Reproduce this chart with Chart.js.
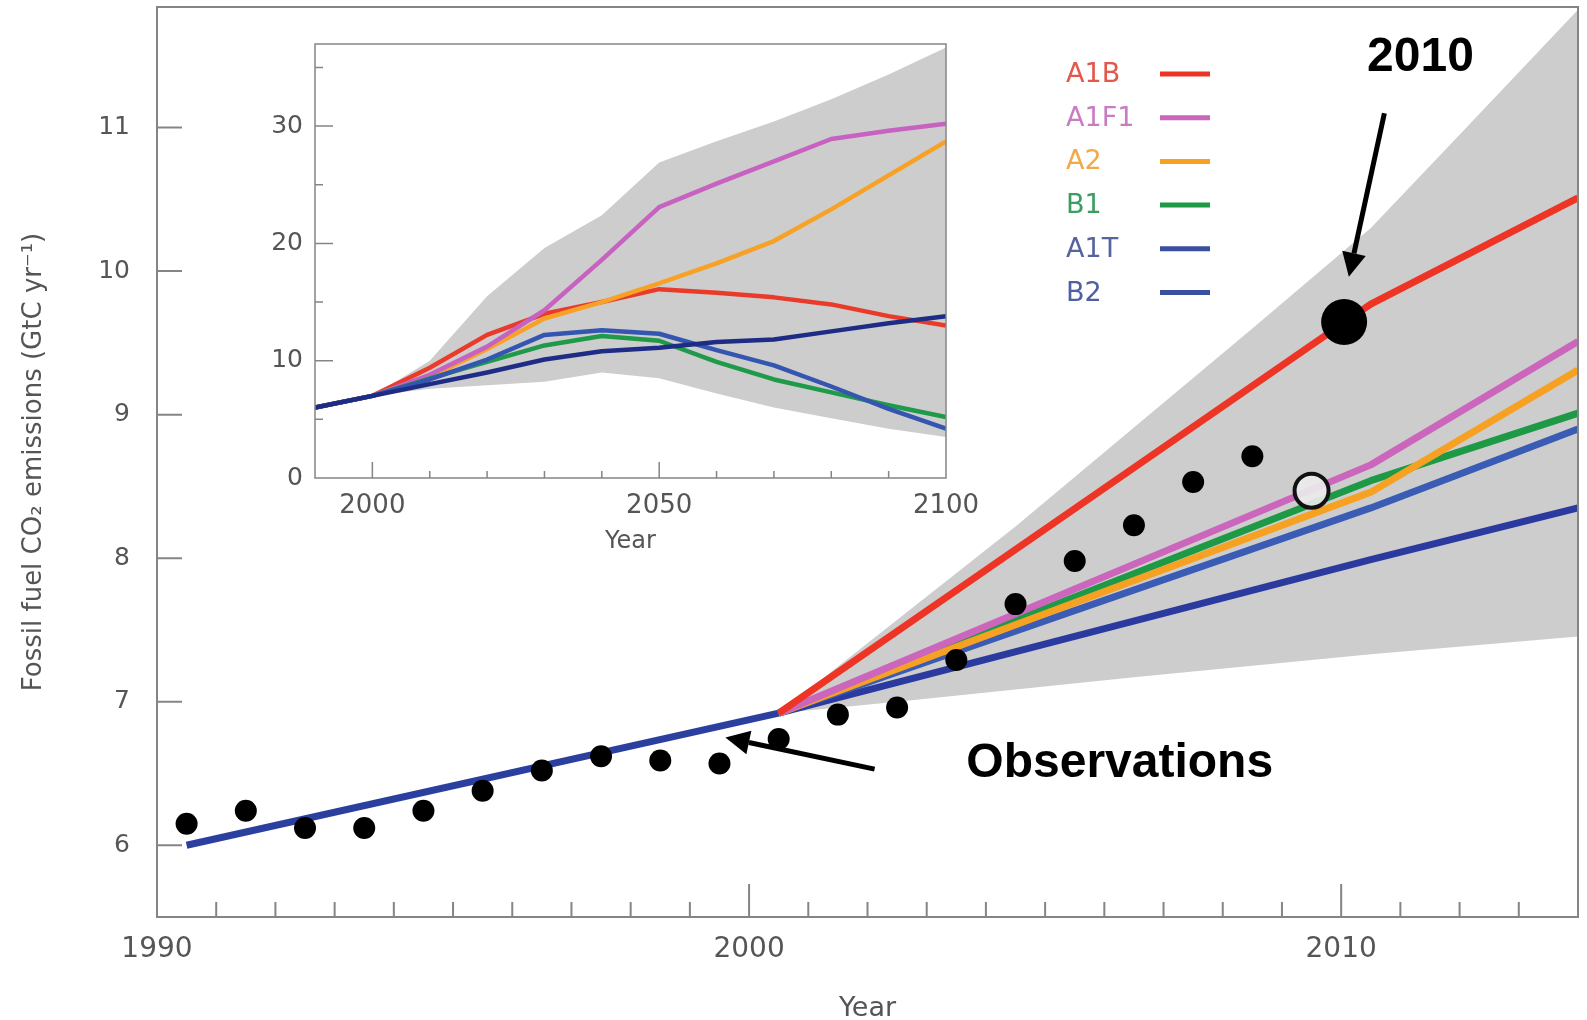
<!DOCTYPE html>
<html>
<head>
<meta charset="utf-8">
<title>Fossil fuel CO2 emissions and SRES scenarios</title>
<script src="https://cdn.jsdelivr.net/npm/chart.js@4.4.1/dist/chart.umd.min.js"></script>
<style>
	html, body { margin: 0; padding: 0; background: #fff; }
	#wrap { position: relative; width: 1587px; height: 1020px; overflow: hidden; }
	#main { position: absolute; left: 0; top: 0; }
	#inset { position: absolute; left: 240px; top: 30px; }
</style>
</head>
<body>
<div id="wrap">
	<canvas id="main" width="1587" height="1020"></canvas>
	<canvas id="inset" width="740" height="530"></canvas>
</div>
<script>
// ---- main panel: observations 1990-2008 and scenarios to 2014 ----
const obsYears = [1990.5, 1991.5, 1992.5, 1993.5, 1994.5, 1995.5, 1996.5, 1997.5, 1998.5, 1999.5,
	2000.5, 2001.5, 2002.5, 2003.5, 2004.5, 2005.5, 2006.5, 2007.5, 2008.5];
const obsValues = [6.15, 6.24, 6.12, 6.12, 6.24, 6.38, 6.52, 6.62, 6.59, 6.57,
	6.74, 6.91, 6.96, 7.29, 7.68, 7.98, 8.23, 8.53, 8.71];

const histYears = [1990.5, 2000.5];
const histValues = [6.0, 6.92];

const scenarioNames = ["A1B", "A1F1", "A2", "B1", "A1T", "B2"];
const projYears = [2000.5, 2010.5, 2014];
const projA1B = [6.92, 9.77, 10.51];
const projA1F1 = [6.92, 8.65, 9.51];
const projA2 = [6.92, 8.46, 9.31];
const projB1 = [6.92, 8.54, 9.01];
const projA1T = [6.92, 8.35, 8.9];
const projB2 = [6.92, 7.99, 8.35];

const rangeUpperYears = [2000.5, 2004.5, 2008.5, 2010.5, 2012, 2014];
const rangeUpperValues = [6.92, 8.22, 9.6, 10.3, 10.95, 11.82];
const rangeLowerYears = [2000.5, 2002.5, 2006.5, 2010.5, 2014];
const rangeLowerValues = [6.92, 7.0, 7.17, 7.33, 7.455];

const mark2010Years = [2010.05];
const mark2010Values = [9.645];
const openMarkYears = [2009.5];
const openMarkValues = [8.47];

const mainXTicks = [1990, 2000, 2010];
const mainYTicks = [6, 7, 8, 9, 10, 11];

// ---- inset: scenarios to 2100 ----
const insetYears = [1990, 2000, 2010, 2020, 2030, 2040, 2050, 2060, 2070, 2080, 2090, 2100];
const insetA1B = [6.0, 7.0, 9.4, 12.2, 14.0, 15.0, 16.1, 15.8, 15.4, 14.8, 13.8, 13.0];
const insetA1F1 = [6.0, 7.0, 8.8, 11.2, 14.3, 18.6, 23.1, 25.1, 27.0, 28.9, 29.6, 30.2];
const insetA2 = [6.0, 7.0, 8.6, 11.0, 13.6, 15.0, 16.6, 18.3, 20.2, 22.9, 25.8, 28.7];
const insetB1 = [6.0, 7.0, 8.5, 9.9, 11.3, 12.1, 11.7, 9.9, 8.4, 7.3, 6.2, 5.2];
const insetA1T = [6.0, 7.0, 8.4, 10.1, 12.2, 12.6, 12.3, 10.9, 9.6, 7.8, 5.9, 4.2];
const insetB2 = [6.0, 7.0, 8.0, 9.0, 10.1, 10.8, 11.1, 11.6, 11.8, 12.5, 13.2, 13.8];
const insetUpper = [6.0, 7.0, 10.0, 15.5, 19.6, 22.4, 26.9, 28.7, 30.4, 32.3, 34.4, 36.7];
const insetLower = [6.0, 7.0, 7.6, 7.9, 8.2, 9.0, 8.5, 7.2, 6.0, 5.1, 4.2, 3.5];

const insetXTicks = [2000, 2050, 2100];
const insetYTicks = [0, 10, 20, 30];

// ---- styles ----
const lineColors = {
	A1B: "#ee3424",
	A1F1: "#cb66bc",
	A2: "#f7a123",
	B1: "#1e9a46",
	A1T: "#3a5cb4",
	B2: "#2a3a9e",
};
const insetColors = {
	A1B: "#ea3a2a",
	A1F1: "#c862c0",
	A2: "#f7a226",
	B1: "#1f9a4a",
	A1T: "#3456b0",
	B2: "#1f2c85",
};
const legendTextColors = ["#e4574a", "#c77cc4", "#f0aa48", "#3c9c62", "#55639f", "#4f5f9f"];
const legendLineColors = ["#ee3424", "#cb66bc", "#f7a123", "#1e9a46", "#3a4fa0", "#3a4fa0"];
const rangeGrey = "#cdcdcd";
const axisGrey = "#858585";
const labelGrey = "#555555";

Chart.defaults.font.family = "'DejaVu Sans', sans-serif";
Chart.defaults.color = labelGrey;

const pts = (xs, ys) => xs.map((x, i) => ({ x, y: ys[i] }));

const tickValues = (min, max, step) => {
	const out = [];
	for (let v = Math.ceil(min / step - 1e-9) * step; v < max - 1e-9; v += step) {
		if (v > min + 1e-9) out.push(+v.toFixed(6));
	}
	return out;
};
const isMultiple = (v, step) => Math.abs(v / step - Math.round(v / step)) < 1e-6;

// box round the plot area, with tick marks pointing inwards
const makeFrame = cfg => ({
	id: "frame",
	afterDraw(chart) {
		const {
			ctx,
			chartArea: a,
			scales: { x, y },
		} = chart;
		ctx.save();
		ctx.strokeStyle = cfg.color;
		ctx.lineWidth = cfg.width;
		ctx.strokeRect(a.left, a.top, a.right - a.left, a.bottom - a.top);
		ctx.beginPath();
		tickValues(x.min, x.max, cfg.xMinor).forEach(v => {
			const len = isMultiple(v, cfg.xMajor) ? cfg.xMajorLen : cfg.xMinorLen;
			const px = x.getPixelForValue(v);
			ctx.moveTo(px, a.bottom);
			ctx.lineTo(px, a.bottom - len);
		});
		tickValues(y.min, y.max, cfg.yMinor).forEach(v => {
			const len = isMultiple(v, cfg.yMajor) ? cfg.yMajorLen : cfg.yMinorLen;
			const py = y.getPixelForValue(v);
			ctx.moveTo(a.left, py);
			ctx.lineTo(a.left + len, py);
		});
		ctx.stroke();
		ctx.restore();
	},
});

const drawArrow = (ctx, x1, y1, x2, y2) => {
	const ang = Math.atan2(y2 - y1, x2 - x1);
	const head = 24;
	const half = 12;
	const bx = x2 - head * Math.cos(ang);
	const by = y2 - head * Math.sin(ang);
	ctx.lineWidth = 5;
	ctx.beginPath();
	ctx.moveTo(x1, y1);
	ctx.lineTo(bx, by);
	ctx.stroke();
	ctx.beginPath();
	ctx.moveTo(x2, y2);
	ctx.lineTo(bx + half * Math.sin(ang), by - half * Math.cos(ang));
	ctx.lineTo(bx - half * Math.sin(ang), by + half * Math.cos(ang));
	ctx.closePath();
	ctx.fill();
};

// "2010" and "Observations" call-outs, placed in data units
const callouts = [
	{ text: "2010", at: [2011.34, 11.485], from: [2010.73, 11.1], to: [2010.13, 9.96] },
	{ text: "Observations", at: [2006.26, 6.57], from: [2002.12, 6.53], to: [1999.6, 6.75] },
];

const calloutPlugin = {
	id: "callouts",
	afterDatasetsDraw(chart) {
		const {
			ctx,
			scales: { x, y },
		} = chart;
		ctx.save();
		ctx.fillStyle = "#000";
		ctx.strokeStyle = "#000";
		ctx.font = "bold 48px 'Liberation Sans', Arial, sans-serif";
		ctx.textAlign = "center";
		ctx.textBaseline = "middle";
		callouts.forEach(c => {
			ctx.fillText(c.text, x.getPixelForValue(c.at[0]), y.getPixelForValue(c.at[1]));
			drawArrow(
				ctx,
				x.getPixelForValue(c.from[0]),
				y.getPixelForValue(c.from[1]),
				x.getPixelForValue(c.to[0]),
				y.getPixelForValue(c.to[1])
			);
		});
		ctx.restore();
	},
};

// legend: coloured name, then a short line
const legendPlugin = {
	id: "scenarioLegend",
	afterDatasetsDraw(chart) {
		const { ctx } = chart;
		ctx.save();
		ctx.font = "27px 'DejaVu Sans', sans-serif";
		ctx.textBaseline = "middle";
		ctx.textAlign = "left";
		ctx.lineWidth = 5;
		scenarioNames.forEach((name, i) => {
			const yy = 74 + i * 43.7;
			ctx.fillStyle = legendTextColors[i];
			ctx.fillText(name, 1066, yy + 1);
			ctx.strokeStyle = legendLineColors[i];
			ctx.beginPath();
			ctx.moveTo(1160, yy);
			ctx.lineTo(1210, yy);
			ctx.stroke();
		});
		ctx.restore();
	},
};

const lineSet = (label, data, color, width, order) => ({
	label,
	data,
	borderColor: color,
	borderWidth: width,
	pointRadius: 0,
	fill: false,
	tension: 0,
	borderJoinStyle: "round",
	clip: 0,
	order,
});

const dotSet = (label, data, radius, fillColor, border, order) => ({
	label,
	data,
	showLine: false,
	pointRadius: radius,
	pointBackgroundColor: fillColor,
	pointBorderColor: "#111",
	pointBorderWidth: border,
	order,
});

new Chart(document.getElementById("main"), {
	type: "line",
	data: {
		datasets: [
			{
				label: "range upper",
				data: pts(rangeUpperYears, rangeUpperValues),
				borderWidth: 0,
				pointRadius: 0,
				backgroundColor: rangeGrey,
				fill: "+1",
				order: 20,
			},
			{
				label: "range lower",
				data: pts(rangeLowerYears, rangeLowerValues),
				borderWidth: 0,
				pointRadius: 0,
				fill: false,
				order: 21,
			},
			lineSet("history", pts(histYears, histValues), "#2b3f9f", 7, 12),
			lineSet("B2", pts(projYears, projB2), lineColors.B2, 7, 11),
			lineSet("A1T", pts(projYears, projA1T), lineColors.A1T, 7, 10),
			lineSet("B1", pts(projYears, projB1), lineColors.B1, 7, 9),
			lineSet("A2", pts(projYears, projA2), lineColors.A2, 7, 8),
			lineSet("A1F1", pts(projYears, projA1F1), lineColors.A1F1, 7, 7),
			lineSet("A1B", pts(projYears, projA1B), lineColors.A1B, 7, 6),
			dotSet("Observations", pts(obsYears, obsValues), 11, "#000", 0, 3),
			dotSet("2009", pts(openMarkYears, openMarkValues), 17, "rgba(236,236,236,0.9)", 4, 2),
			dotSet("2010", pts(mark2010Years, mark2010Values), 23, "#000", 0, 1),
		],
	},
	options: {
		responsive: false,
		animation: false,
		events: [],
		layout: { autoPadding: false, padding: { top: 7, right: 9, left: 0, bottom: 0 } },
		plugins: {
			legend: { display: false },
			tooltip: { enabled: false },
		},
		scales: {
			x: {
				type: "linear",
				min: 1990,
				max: 2014,
				grid: { display: false, drawTicks: false },
				border: { display: false },
				afterBuildTicks: s => {
					s.ticks = mainXTicks.map(value => ({ value }));
				},
				ticks: {
					autoSkip: false,
					maxRotation: 0,
					padding: 16,
					color: labelGrey,
					font: { size: 28 },
					callback: v => String(v),
				},
				title: {
					display: true,
					text: "Year",
					color: labelGrey,
					font: { size: 27, lineHeight: 0.8 },
					padding: { top: 0, bottom: 0 },
				},
				afterFit: s => {
					s.height = 103;
					s.paddingLeft = 0;
					s.paddingRight = 0;
				},
			},
			y: {
				type: "linear",
				min: 5.5,
				max: 11.84,
				grid: { display: false, drawTicks: false },
				border: { display: false },
				afterBuildTicks: s => {
					s.ticks = mainYTicks.map(value => ({ value }));
				},
				ticks: {
					padding: 27,
					color: labelGrey,
					font: { size: 25 },
					callback: v => String(v),
				},
				title: {
					display: true,
					text: "Fossil fuel CO₂ emissions (GtC yr⁻¹)",
					color: labelGrey,
					font: { size: 26 },
					padding: { top: 19, bottom: 0 },
				},
				afterFit: s => {
					s.width = 157;
					s.paddingTop = 0;
					s.paddingBottom = 0;
				},
			},
		},
	},
	plugins: [
		makeFrame({
			color: axisGrey,
			width: 2,
			xMinor: 1,
			xMajor: 10,
			xMinorLen: 15,
			xMajorLen: 33,
			yMinor: 1,
			yMajor: 1,
			yMinorLen: 25,
			yMajorLen: 25,
		}),
		legendPlugin,
		calloutPlugin,
	],
});

new Chart(document.getElementById("inset"), {
	type: "line",
	data: {
		datasets: [
			{
				label: "range upper",
				data: pts(insetYears, insetUpper),
				borderWidth: 0,
				pointRadius: 0,
				backgroundColor: rangeGrey,
				fill: "+1",
				order: 20,
			},
			{
				label: "range lower",
				data: pts(insetYears, insetLower),
				borderWidth: 0,
				pointRadius: 0,
				fill: false,
				order: 21,
			},
			lineSet("A1B", pts(insetYears, insetA1B), insetColors.A1B, 4.5, 7),
			lineSet("A2", pts(insetYears, insetA2), insetColors.A2, 4.5, 6),
			lineSet("A1F1", pts(insetYears, insetA1F1), insetColors.A1F1, 4.5, 5),
			lineSet("B1", pts(insetYears, insetB1), insetColors.B1, 4.5, 4),
			lineSet("A1T", pts(insetYears, insetA1T), insetColors.A1T, 4.5, 3),
			lineSet("B2", pts(insetYears, insetB2), insetColors.B2, 4.5, 2),
		],
	},
	options: {
		responsive: false,
		animation: false,
		events: [],
		layout: { autoPadding: false, padding: { top: 14, right: 34, left: 0, bottom: 0 } },
		plugins: {
			legend: { display: false },
			tooltip: { enabled: false },
		},
		scales: {
			x: {
				type: "linear",
				min: 1990,
				max: 2100,
				grid: { display: false, drawTicks: false },
				border: { display: false },
				afterBuildTicks: s => {
					s.ticks = insetXTicks.map(value => ({ value }));
				},
				ticks: {
					autoSkip: false,
					maxRotation: 0,
					padding: 13,
					color: labelGrey,
					font: { size: 26 },
					callback: v => String(v),
				},
				title: {
					display: true,
					text: "Year",
					color: labelGrey,
					font: { size: 24 },
					padding: { top: 0, bottom: 4 },
				},
				afterFit: s => {
					s.height = 82;
					s.paddingLeft = 0;
					s.paddingRight = 0;
				},
			},
			y: {
				type: "linear",
				min: 0,
				max: 37,
				grid: { display: false, drawTicks: false },
				border: { display: false },
				afterBuildTicks: s => {
					s.ticks = insetYTicks.map(value => ({ value }));
				},
				ticks: {
					padding: 12,
					color: labelGrey,
					font: { size: 25 },
					callback: v => String(v),
				},
				afterFit: s => {
					s.width = 75;
					s.paddingTop = 0;
					s.paddingBottom = 0;
				},
			},
		},
	},
	plugins: [
		makeFrame({
			color: axisGrey,
			width: 1.5,
			xMinor: 10,
			xMajor: 50,
			xMinorLen: 7,
			xMajorLen: 16,
			yMinor: 5,
			yMajor: 10,
			yMinorLen: 8,
			yMajorLen: 18,
		}),
	],
});
</script>
</body>
</html>
